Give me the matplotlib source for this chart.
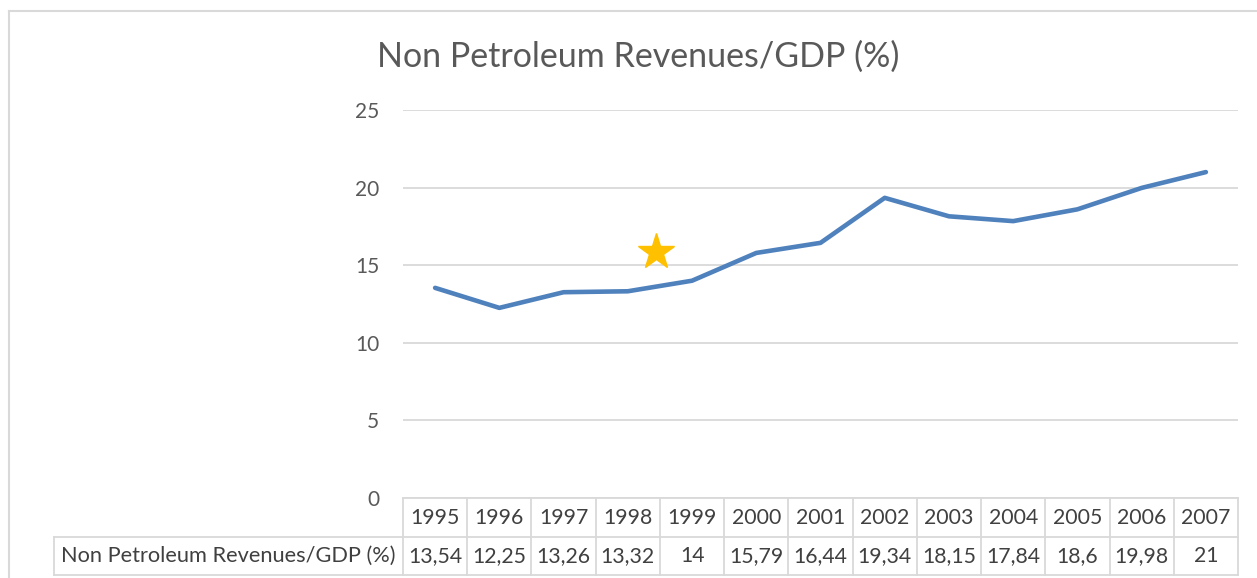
import matplotlib
matplotlib.use("Agg")
import matplotlib.pyplot as plt
import matplotlib.transforms as mtransforms
from matplotlib.lines import Line2D

years = ["1995", "1996", "1997", "1998", "1999", "2000", "2001",
         "2002", "2003", "2004", "2005", "2006", "2007"]
values = [13.54, 12.25, 13.26, 13.32, 14, 15.79, 16.44,
          19.34, 18.15, 17.84, 18.6, 19.98, 21]
value_labels = ["13,54", "12,25", "13,26", "13,32", "14", "15,79", "16,44",
                "19,34", "18,15", "17,84", "18,6", "19,98", "21"]
series_name = "Non Petroleum Revenues/GDP (%)"
title = "Non Petroleum Revenues/GDP (%)"
yticks = [0, 5, 10, 15, 20, 25]
star_x = [3.44]
star_y = [15.85]

plt.rcParams['font.family'] = ['Lato', 'DejaVu Sans']
W, H = 1257, 578
fig = plt.figure(figsize=(W / 100, H / 100), dpi=100)
fig.patch.set_facecolor("white")

def fx(px):
    return px / W

def fy(py):
    return 1 - py / H

# outer chart border
fig.add_artist(Line2D([fx(9), fx(9)], [fy(11), 0], color="#d9d9d9", lw=1.5,
                      transform=fig.transFigure))
fig.add_artist(Line2D([fx(9), 1], [fy(11), fy(11)], color="#d9d9d9", lw=1.5,
                      transform=fig.transFigure))

ax = fig.add_axes([fx(403), fy(498), fx(1238) - fx(403), (498 - 110) / H])
x = list(range(len(years)))
ax.plot(x, values, color="#4F81BD", lw=3.3, solid_capstyle="round",
        solid_joinstyle="round", zorder=3)
ax.plot(star_x, star_y, marker="*", markersize=27, color="#FFC000",
        markeredgecolor="#FFC000", linestyle="none", zorder=4)

ax.set_xlim(-0.5, len(years) - 0.5)
ax.set_ylim(0, 25)
ax.set_yticks(yticks)
ax.set_yticklabels([str(t) for t in yticks])
ax.set_xticks([])
ax.tick_params(axis="y", length=0, pad=17, labelsize=15, labelcolor="#595959")
for s in ax.spines.values():
    s.set_visible(False)
ax.grid(axis="y", color="#d9d9d9", lw=1.3)
ax.set_axisbelow(True)

fig.text(fx(638), fy(57), title, ha="center", va="center", fontsize=24.5,
         color="#595959")

# data table below plot
tr = mtransforms.blended_transform_factory(ax.transData, fig.transFigure)
y_top, y_mid, y_bot = fy(498), fy(537), fy(575)
gc = "#d9d9d9"
n = len(years)
fig.add_artist(Line2D([-0.5, n - 0.5], [y_top, y_top], color=gc, lw=1.3, transform=tr))
fig.add_artist(Line2D([fx(54), fx(1238)], [y_mid, y_mid], color=gc, lw=1.3,
                      transform=fig.transFigure))
fig.add_artist(Line2D([fx(54), fx(1238)], [y_bot, y_bot], color=gc, lw=1.3,
                      transform=fig.transFigure))
fig.add_artist(Line2D([fx(54), fx(54)], [y_mid, y_bot], color=gc, lw=1.3,
                      transform=fig.transFigure))
for i in range(n + 1):
    fig.add_artist(Line2D([i - 0.5, i - 0.5], [y_top, y_bot], color=gc, lw=1.3,
                          transform=tr))
for i in range(n):
    fig.text(i, (y_top + y_mid) / 2, years[i], transform=tr, ha="center",
             va="center", fontsize=15.3, color="#404040")
    fig.text(i, (y_mid + y_bot) / 2, value_labels[i], transform=tr, ha="center",
             va="center", fontsize=15.3, color="#404040")
fig.text(fx(228), (y_mid + y_bot) / 2, series_name, ha="center", va="center",
         fontsize=15.7, color="#404040")

fig.savefig("out.png", dpi=100, facecolor="white")
